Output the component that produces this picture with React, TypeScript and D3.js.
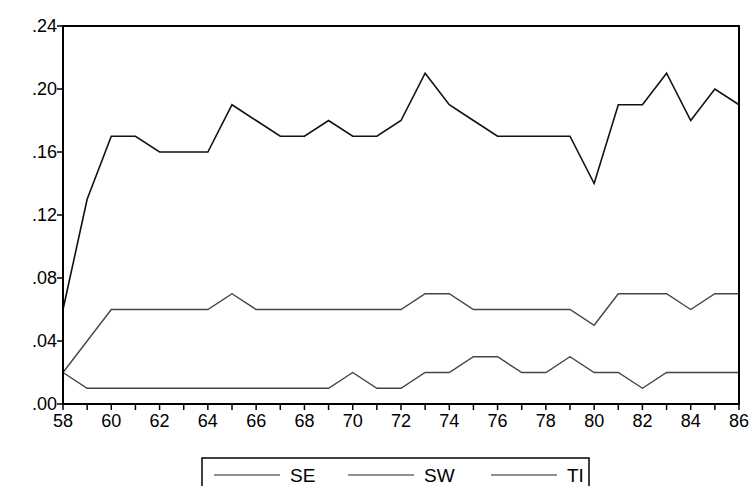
import * as d3 from "d3";

const years = d3.range(58, 87);
const seValues = [0.06, 0.13, 0.17, 0.17, 0.16, 0.16, 0.16, 0.19, 0.18, 0.17, 0.17, 0.18, 0.17, 0.17, 0.18, 0.21, 0.19, 0.18, 0.17, 0.17, 0.17, 0.17, 0.14, 0.19, 0.19, 0.21, 0.18, 0.2, 0.19];
const swValues = [0.02, 0.04, 0.06, 0.06, 0.06, 0.06, 0.06, 0.07, 0.06, 0.06, 0.06, 0.06, 0.06, 0.06, 0.06, 0.07, 0.07, 0.06, 0.06, 0.06, 0.06, 0.06, 0.05, 0.07, 0.07, 0.07, 0.06, 0.07, 0.07];
const tiValues = [0.02, 0.01, 0.01, 0.01, 0.01, 0.01, 0.01, 0.01, 0.01, 0.01, 0.01, 0.01, 0.02, 0.01, 0.01, 0.02, 0.02, 0.03, 0.03, 0.02, 0.02, 0.03, 0.02, 0.02, 0.01, 0.02, 0.02, 0.02, 0.02];
const yTicks = [0, 0.04, 0.08, 0.12, 0.16, 0.2, 0.24];
const legendNames = ["SE", "SW", "TI"];

export default function App() {
  const W = 755, H = 486;
  const left = 63, right = 739, top = 26, bottom = 404;
  const x = d3.scaleLinear().domain([58, 86]).range([left, right]);
  const y = d3.scaleLinear().domain([0, 0.24]).range([bottom, top]);
  const line = d3.line<number>().x((_, i) => x(years[i])).y((d) => y(d));
  const series = [
    { v: seValues, c: "#111", w: 1.6 },
    { v: swValues, c: "#444", w: 1.4 },
    { v: tiValues, c: "#444", w: 1.4 },
  ];
  const font = "Liberation Sans, Arial, sans-serif";
  return (
    <svg width={W} height={H} style={{ position: "absolute", left: 0, top: 0 }} fontFamily={font}>
      <rect x={0} y={0} width={W} height={H} fill="#fff" />
      {series.map((s, i) => (
        <path key={i} d={line(s.v) || ""} fill="none" stroke={s.c} strokeWidth={s.w} />
      ))}
      <rect x={left} y={top} width={right - left} height={bottom - top} fill="none" stroke="#000" strokeWidth={2} />
      {yTicks.map((t) => (
        <g key={t}>
          <line x1={left - 6} x2={left} y1={y(t)} y2={y(t)} stroke="#000" strokeWidth={1.5} />
          <text x={left - 6} y={y(t) + 6} textAnchor="end" fontSize={18}>
            {d3.format(".2f")(t).replace(/^0/, "")}
          </text>
        </g>
      ))}
      {years.map((yr) => (
        <line key={yr} x1={x(yr)} x2={x(yr)} y1={bottom} y2={bottom + 6} stroke="#000" strokeWidth={1.5} />
      ))}
      {years.filter((yr) => yr % 2 === 0).map((yr) => (
        <text key={yr} x={x(yr)} y={bottom + 23} textAnchor="middle" fontSize={18}>{yr}</text>
      ))}
      <rect x={202} y={458} width={387} height={40} fill="none" stroke="#000" strokeWidth={1.5} />
      {legendNames.map((n, i) => {
        const lx = [214, 348, 491][i];
        return (
          <g key={n}>
            <line x1={lx} x2={lx + 66} y1={475} y2={475} stroke="#222" strokeWidth={1.2} />
            <text x={lx + 76} y={482} fontSize={19}>{n}</text>
          </g>
        );
      })}
    </svg>
  );
}
